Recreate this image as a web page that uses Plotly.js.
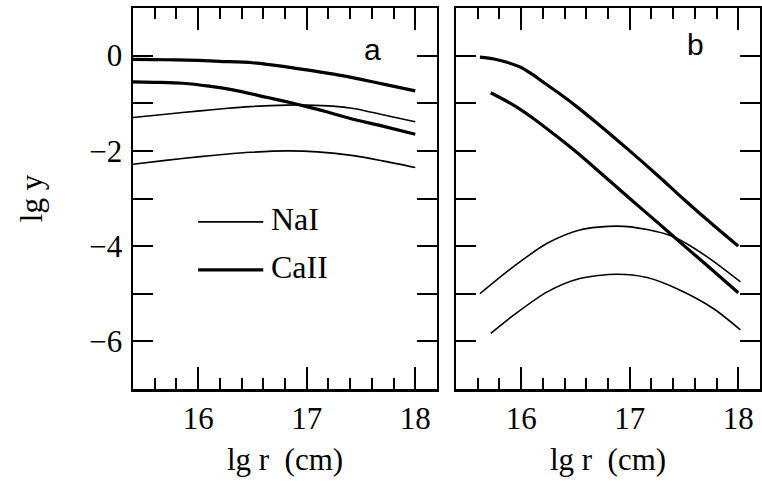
<!DOCTYPE html>
<html>
<head>
<meta charset="utf-8">
<script src="https://cdn.plot.ly/plotly-3.0.1.min.js"></script>
<style>html,body{margin:0;padding:0;background:#fff;}#chart{width:762px;height:489px;}</style>
</head>
<body>
<div id="chart"></div>
<script>
// Panel a
const aCaUpX = [15.4, 15.6, 15.8, 16.0, 16.2, 16.5, 16.8, 17.0, 17.25, 17.5, 17.75, 18.0];
const aCaUpY = [-0.08, -0.085, -0.09, -0.10, -0.12, -0.15, -0.23, -0.30, -0.39, -0.50, -0.62, -0.74];
const aCaLoX = [15.4, 15.6, 15.86, 16.1, 16.32, 16.63, 16.8, 17.0, 17.2, 17.4, 17.7, 18.0];
const aCaLoY = [-0.55, -0.56, -0.58, -0.64, -0.72, -0.875, -0.96, -1.07, -1.19, -1.32, -1.48, -1.65];
const aNaUpX = [15.4, 15.7, 16.02, 16.25, 16.48, 16.82, 17.0, 17.24, 17.43, 17.7, 18.0];
const aNaUpY = [-1.30, -1.23, -1.16, -1.11, -1.07, -1.04, -1.04, -1.06, -1.11, -1.24, -1.39];
const aNaLoX = [15.4, 15.7, 16.02, 16.25, 16.48, 16.82, 17.1, 17.43, 17.7, 18.0];
const aNaLoY = [-2.28, -2.20, -2.12, -2.07, -2.03, -2.00, -2.02, -2.10, -2.21, -2.35];
// Panel b
const bCaUpX = [15.62, 15.75, 15.87, 16.0, 16.1, 16.2, 16.33, 16.5, 16.7, 17.0, 17.25, 17.5, 17.75, 18.0];
const bCaUpY = [-0.03, -0.07, -0.14, -0.25, -0.39, -0.55, -0.76, -1.05, -1.42, -2.0, -2.5, -3.02, -3.52, -4.0];
const bCaLoX = [15.72, 15.93, 16.1, 16.33, 16.5, 16.7, 17.0, 17.25, 17.5, 17.75, 18.0];
const bCaLoY = [-0.78, -1.04, -1.30, -1.70, -2.01, -2.40, -3.0, -3.49, -3.99, -4.48, -4.98];
const bNaUpX = [15.62, 15.93, 16.24, 16.54, 16.88, 17.16, 17.4, 17.71, 18.02];
const bNaUpY = [-5.0, -4.43, -3.94, -3.66, -3.58, -3.65, -3.80, -4.22, -4.75];
const bNaLoX = [15.72, 15.93, 16.24, 16.54, 16.88, 17.16, 17.46, 17.77, 18.02];
const bNaLoY = [-5.83, -5.45, -4.96, -4.68, -4.59, -4.66, -4.92, -5.31, -5.76];
// Legend
const legendLabels = ["NaI", "CaII"];
const legendKeyX = [16.0, 16.6];
const legendKeyY = [-3.49, -4.5];
const panelLabels = ["a", "b"];
const xTickVals = [16, 17, 18];
const yTickVals = [-6, -4, -2, 0];
const xTitle = "lg r\u00a0\u00a0(cm)";
const yTitle = "lg y";
const TC = '#000';

const thin = 1.6, thick = 3.2;
function tr(x, y, w, xa, ya) {
  return {x: x, y: y, type: 'scatter', mode: 'lines', xaxis: xa, yaxis: ya,
    line: {color: '#000', width: w, shape: 'spline', smoothing: 0.8}, showlegend: false, hoverinfo: 'skip'};
}
const data = [
  tr(aCaUpX, aCaUpY, thick, 'x', 'y'),
  tr(aCaLoX, aCaLoY, thick, 'x', 'y'),
  tr(aNaUpX, aNaUpY, thin, 'x', 'y'),
  tr(aNaLoX, aNaLoY, thin, 'x', 'y'),
  tr(bCaUpX, bCaUpY, thick, 'x2', 'y2'),
  tr(bCaLoX, bCaLoY, thick, 'x2', 'y2'),
  tr(bNaUpX, bNaUpY, thin, 'x2', 'y2'),
  tr(bNaLoX, bNaLoY, thin, 'x2', 'y2')
];

const serif = 'Liberation Serif, Times New Roman, serif';
function xax(domain, anchor) {
  return {domain: domain, anchor: anchor, range: [15.4, 18.2], tickvals: xTickVals,
    ticks: 'inside', ticklen: 22, tickwidth: 2, tickcolor: TC,
    minor: {dtick: 0.2, tick0: 0, ticks: 'inside', ticklen: 11, tickwidth: 2, tickcolor: TC},
    showline: true, linewidth: 2.5, linecolor: '#000', mirror: 'allticks',
    showgrid: false, zeroline: false, tickfont: {family: serif, size: 31, color: '#000'},
    ticklabelstandoff: 0,
    title: {text: xTitle, font: {family: serif, size: 31, color: '#000'}, standoff: 14},
    automargin: false, fixedrange: true};
}
function yax(anchor, labels) {
  return {anchor: anchor, range: [-7, 1], tickvals: yTickVals, ticks: 'inside', ticklen: 20, tickwidth: 2, tickcolor: TC,
    minor: {dtick: 1, tick0: 0, ticks: 'inside', ticklen: 20, tickwidth: 2, tickcolor: TC},
    showline: true, linewidth: 2.5, linecolor: '#000', mirror: 'allticks',
    showgrid: false, zeroline: false, showticklabels: labels,
    tickfont: {family: serif, size: 31, color: '#000'}, ticklabelstandoff: 2,
    title: labels ? {text: yTitle, font: {family: serif, size: 31, color: '#000'}, standoff: 38} : {text: ''},
    automargin: false, fixedrange: true};
}

const shapes = [
  {type: 'line', xref: 'x', yref: 'y', x0: legendKeyX[0], x1: legendKeyX[1], y0: legendKeyY[0], y1: legendKeyY[0], line: {color: '#000', width: thin}},
  {type: 'line', xref: 'x', yref: 'y', x0: legendKeyX[0], x1: legendKeyX[1], y0: legendKeyY[1], y1: legendKeyY[1], line: {color: '#000', width: thick}}
];
const annotations = [
  {xref: 'x', yref: 'y', x: legendKeyX[1] + 0.05, y: legendKeyY[0] + 0.07, text: legendLabels[0], showarrow: false, xanchor: 'left', yanchor: 'middle', font: {family: serif, size: 32, color: '#000'}},
  {xref: 'x', yref: 'y', x: legendKeyX[1] + 0.05, y: legendKeyY[1] + 0.07, text: legendLabels[1], showarrow: false, xanchor: 'left', yanchor: 'middle', font: {family: serif, size: 32, color: '#000'}},
  {xref: 'x domain', yref: 'y domain', x: 0.788, y: 0.89, text: panelLabels[0], showarrow: false, xanchor: 'center', yanchor: 'middle', font: {family: 'Liberation Sans, Arial, sans-serif', size: 30, color: '#000'}},
  {xref: 'x2 domain', yref: 'y2 domain', x: 0.789, y: 0.905, text: panelLabels[1], showarrow: false, xanchor: 'center', yanchor: 'middle', font: {family: 'Liberation Sans, Arial, sans-serif', size: 30, color: '#000'}}
];

const layout = {
  width: 762, height: 489,
  margin: {l: 133, r: 2, t: 8, b: 100, pad: 0},
  paper_bgcolor: '#fff', plot_bgcolor: '#fff',
  showlegend: false,
  xaxis: xax([0, 0.4848], 'y'),
  xaxis2: xax([0.5152, 1], 'y2'),
  yaxis: yax('x', true),
  yaxis2: yax('x2', false),
  shapes: shapes,
  annotations: annotations
};
Plotly.newPlot('chart', data, layout, {staticPlot: true, displayModeBar: false});
</script>
</body>
</html>
